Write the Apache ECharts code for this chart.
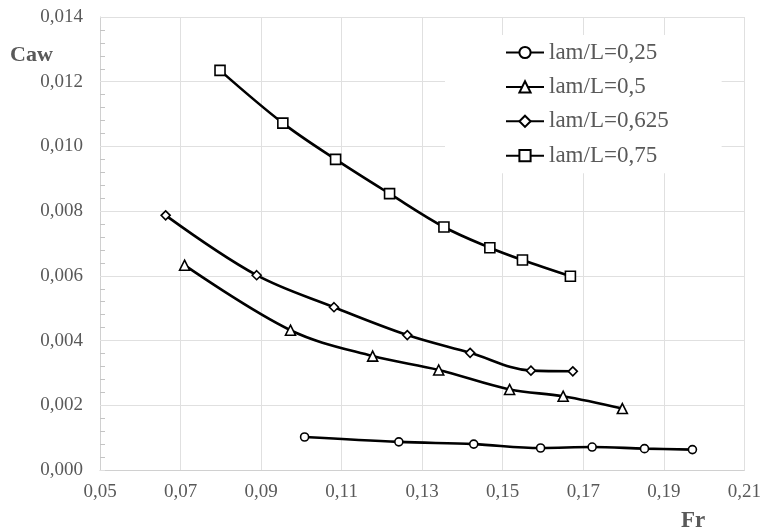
<!DOCTYPE html>
<html>
<head>
<meta charset="utf-8">
<title>Caw - Fr</title>
<script src="https://cdn.jsdelivr.net/npm/echarts@6/dist/echarts.min.js"></script>
<style>
  html, body { margin: 0; padding: 0; background: #fff; }
  #chart { width: 764px; height: 530px; }
</style>
</head>
<body>
<div id="chart"></div>
<script>
const seriesNames = ['lam/L=0,25', 'lam/L=0,5', 'lam/L=0,625', 'lam/L=0,75']
const symbols = ['circle', 'triangle', 'diamond', 'rect']
const symbolSizes = [8, 10, 9, 10]

const fr025 = [0.1008, 0.1242, 0.1428, 0.1594, 0.1722, 0.1852, 0.1971]
const caw025 = [0.00102, 0.00087, 0.00080, 0.00068, 0.00071, 0.00066, 0.00063]
const fr05 = [0.0710, 0.0973, 0.1177, 0.1341, 0.1517, 0.1650, 0.1797]
const caw05 = [0.00633, 0.00432, 0.00352, 0.00309, 0.00249, 0.00228, 0.00190]
const fr0625 = [0.0663, 0.0889, 0.1081, 0.1263, 0.1419, 0.1570, 0.1674]
const caw0625 = [0.00787, 0.00602, 0.00503, 0.00417, 0.00362, 0.00307, 0.00305]
const fr075 = [0.0798, 0.0954, 0.1085, 0.1219, 0.1354, 0.1468, 0.1549, 0.1668]
const caw075 = [0.01235, 0.01072, 0.00960, 0.00854, 0.00751, 0.00687, 0.00649, 0.00599]

const frList = [fr025, fr05, fr0625, fr075]
const cawList = [caw025, caw05, caw0625, caw075]

const font = 'Liberation Serif'
const gray = '#595959'

function pairs (xs, ys) {
  return xs.map((x, i) => [x, ys[i]])
}

function comma (v, digits) {
  return v.toFixed(digits).replace('.', ',')
}

const chart = echarts.init(document.getElementById('chart'))

chart.setOption({
  animation: false,
  backgroundColor: '#fff',
  grid: { left: 100, right: 18, top: 17, bottom: 60 },
  legend: {
    orient: 'vertical',
    left: 445,
    top: 35,
    padding: [6, 53, 6, 60],
    backgroundColor: '#fff',
    itemWidth: 38,
    itemHeight: 14,
    itemGap: 11.4,
    textStyle: { fontFamily: font, fontSize: 23, lineHeight: 23, color: gray },
    data: seriesNames
  },
  xAxis: {
    type: 'value',
    min: 0.05,
    max: 0.21,
    interval: 0.02,
    axisLine: { lineStyle: { color: '#d0d0d0', width: 1 } },
    axisTick: { show: false },
    axisLabel: {
      margin: 13,
      fontFamily: font,
      fontSize: 19,
      color: gray,
      formatter: v => comma(v, 2)
    },
    splitLine: { lineStyle: { color: '#e0e0e0', width: 1 } }
  },
  yAxis: {
    type: 'value',
    min: 0,
    max: 0.014,
    interval: 0.002,
    axisLine: { show: true, lineStyle: { color: '#d0d0d0', width: 1 } },
    axisTick: { show: true, inside: true, length: 5, lineStyle: { color: '#e0e0e0' } },
    minorTick: { show: true, splitNumber: 5, length: 5, lineStyle: { color: '#c4c4c4', width: 1 } },
    axisLabel: {
      margin: 17,
      fontFamily: font,
      fontSize: 19,
      color: gray,
      formatter: v => comma(v, 3)
    },
    splitLine: { lineStyle: { color: '#e0e0e0', width: 1 } }
  },
  graphic: [
    {
      type: 'text',
      left: 10,
      top: 44,
      style: { text: 'Caw', fontFamily: font, fontSize: 22, fontWeight: 'bold', fill: gray }
    },
    {
      type: 'text',
      left: 681,
      top: 510,
      style: { text: 'Fr', fontFamily: font, fontSize: 23, fontWeight: 'bold', fill: gray }
    }
  ],
  series: seriesNames.map((name, i) => ({
    name: name,
    type: 'line',
    smooth: 0.35,
    data: pairs(frList[i], cawList[i]),
    symbol: symbols[i],
    symbolSize: symbolSizes[i],
    showAllSymbol: true,
    lineStyle: { color: '#000', width: 2.6 },
    itemStyle: { color: '#fff', borderColor: '#000', borderWidth: 1.6 }
  }))
})
</script>
</body>
</html>
